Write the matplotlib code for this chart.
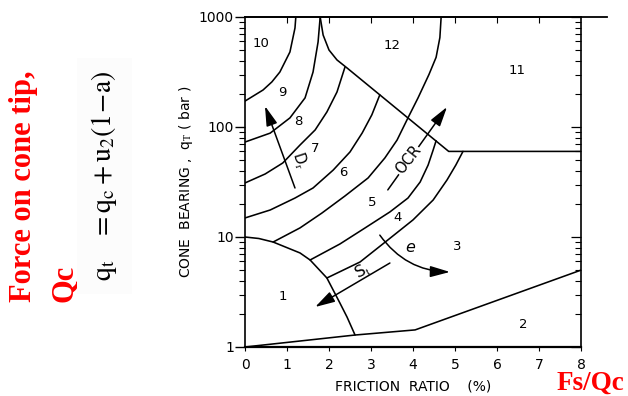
import matplotlib
matplotlib.use('Agg')
import matplotlib.pyplot as plt
from matplotlib.ticker import FixedLocator, NullFormatter
from matplotlib.patches import FancyArrowPatch

plt.rcParams['mathtext.fontset'] = 'stix'

# ---- data: friction ratio (%) vs cone bearing q_T (bar) ----
arc_10_9_x = [0, 0.43, 0.64, 0.83, 1.07, 1.19, 1.21]
arc_10_9_y = [172, 217, 257, 316, 481, 794, 1000]
arc_9_8_x = [0, 0.60, 1.07, 1.43, 1.62, 1.74, 1.79]
arc_9_8_y = [73, 88, 121, 184, 316, 593, 1000]
zone12_x = [1.79, 1.86, 2.0, 2.19, 2.43, 4.85, 8.0]
zone12_y = [1000, 686, 501, 407, 344, 60, 60]
arc_8_7_x = [0, 0.48, 0.90, 1.31, 1.67, 1.95, 2.19, 2.38]
arc_8_7_y = [31, 37.4, 47.1, 68.6, 94, 137, 208, 350]
arc_7_6_x = [0, 0.60, 1.19, 1.62, 2.10, 2.50, 2.79, 3.02, 3.21]
arc_7_6_y = [14.9, 17.6, 22.6, 27.9, 40.6, 59.3, 88.2, 129, 196]
arc_6_5_x = [0.67, 1.31, 1.83, 2.38, 2.93, 3.33, 3.62, 3.88, 4.12, 4.38, 4.55, 4.64, 4.67]
arc_6_5_y = [9.0, 12.1, 16.5, 23.6, 34.4, 52.3, 76, 121, 184, 300, 430, 650, 1000]
arc_5_4_x = [1.55, 2.26, 2.86, 3.45, 3.88, 4.17, 4.36, 4.48, 4.55]
arc_5_4_y = [6.18, 8.64, 12.1, 16.9, 22.6, 31.6, 45.1, 61.8, 75]
arc_4_3_x = [1.95, 2.74, 3.40, 4.0, 4.48, 4.81, 5.02, 5.19]
arc_4_3_y = [4.24, 5.93, 9.39, 14.3, 21.7, 33.0, 45.1, 60]
zone1_x = [0, 0.33, 0.67, 1.31, 1.55, 1.95, 2.26, 2.43, 2.62]
zone1_y = [10, 9.69, 9.0, 7.16, 6.18, 4.24, 2.51, 1.87, 1.285]
zone2_x = [0, 2.62, 4.05, 8.0]
zone2_y = [1.0, 1.285, 1.43, 5.0]

zone_names = ['1', '2', '3', '4', '5', '6', '7', '8', '9', '10', '11', '12']
zone_lx = [0.90, 6.62, 5.05, 3.64, 3.02, 2.33, 1.67, 1.26, 0.88, 0.38, 6.48, 3.5]
zone_ly = [2.85, 1.585, 8.28, 14.9, 20.8, 38.2, 64.4, 113, 204, 580, 323, 556]

# trend arrows (start, end) and their labels
dr_arrow = [(1.19, 27.9), (0.476, 155)]
dr_label = (1.30, 50)
ocr_arrow = [(3.40, 26.8), (4.81, 152)]
ocr_label = (3.88, 50)
e_arrow = [(3.21, 10.4), (4.88, 4.81)]
e_label = (3.93, 8.1)
st_arrow = [(3.45, 5.80), (1.67, 2.31)]
st_label = (2.79, 4.9)

x_ticks = [0, 1, 2, 3, 4, 5, 6, 7, 8]
y_ticks = [1, 10, 100, 1000]
y_ticklabels = ['1', '10', '100', '1000']

fig = plt.figure(figsize=(6.28, 3.96), dpi=100)
ax = fig.add_axes([245/628, 1-347/396, 336/628, 330/396])
ax.set_xlim(0, 8)
ax.set_yscale('log')
ax.set_ylim(1, 1000)

lw = 1.15
for xs, ys in [(arc_10_9_x, arc_10_9_y), (arc_9_8_x, arc_9_8_y), (zone12_x, zone12_y),
               (arc_8_7_x, arc_8_7_y), (arc_7_6_x, arc_7_6_y), (arc_6_5_x, arc_6_5_y),
               (arc_5_4_x, arc_5_4_y), (arc_4_3_x, arc_4_3_y), (zone1_x, zone1_y),
               (zone2_x, zone2_y)]:
    ax.plot(xs, ys, color='black', lw=lw, solid_joinstyle='round', solid_capstyle='round')

for name, lx, ly in zip(zone_names, zone_lx, zone_ly):
    ax.text(lx, ly, name, ha='center', va='center', fontsize=9.5)

head = '-|>,head_length=0.6,head_width=0.17'
def arrow(p, conn='arc3,rad=0'):
    a = FancyArrowPatch(p[0], p[1], arrowstyle=head, mutation_scale=20,
                        connectionstyle=conn, color='black', lw=1.1, shrinkA=0, shrinkB=0)
    ax.add_patch(a)

arrow(dr_arrow)
arrow(ocr_arrow)
arrow(e_arrow, 'arc3,rad=0.25')
arrow(st_arrow)

ax.text(*dr_label, r'D$_\mathrm{r}$', rotation=-72, ha='center', va='center', fontsize=10.5)
ax.text(*ocr_label, 'OCR', rotation=52, ha='center', va='center', fontsize=10.5,
        bbox=dict(facecolor='white', edgecolor='none', pad=0.5))
ax.text(*e_label, 'e', ha='center', va='center', fontsize=11.5, fontstyle='italic')
ax.text(*st_label, r'S$_\mathrm{t}$', rotation=28, ha='center', va='center', fontsize=11.5)

# axes styling
for s in ax.spines.values():
    s.set_linewidth(1.2)
ax.spines['bottom'].set_linewidth(1.6)
ax.plot([0, 1.077], [1, 1], transform=ax.transAxes, color='black', lw=1.3, clip_on=False)

ax.xaxis.set_major_locator(FixedLocator(x_ticks))
ax.set_xticklabels([str(t) for t in x_ticks])
ax.tick_params(axis='x', direction='out', length=3, width=0.8, pad=5, labelsize=10)
ax.yaxis.set_major_locator(FixedLocator(y_ticks))
ax.set_yticklabels(y_ticklabels)
ax.yaxis.set_minor_locator(FixedLocator([m * d for d in (1, 10, 100) for m in range(2, 10)]))
ax.yaxis.set_minor_formatter(NullFormatter())
ax.tick_params(axis='y', which='major', direction='out', length=7, width=1.0, pad=1, labelsize=10)
ax.tick_params(axis='y', which='minor', direction='out', length=4, width=0.8)

top = ax.secondary_xaxis('top')
top.xaxis.set_major_locator(FixedLocator(x_ticks[1:-1]))
top.tick_params(direction='in', length=4, width=0.8, labeltop=False)
top.spines['top'].set_visible(False)

right = ax.secondary_yaxis('right')
right.yaxis.set_major_locator(FixedLocator(y_ticks))
right.yaxis.set_minor_locator(FixedLocator([m * d for d in (1, 10, 100) for m in range(2, 10)]))
right.yaxis.set_minor_formatter(NullFormatter())
right.tick_params(which='major', direction='in', length=7, width=0.9, labelright=False)
right.tick_params(which='minor', direction='in', length=4, width=0.8)
right.spines['right'].set_visible(False)

ax.set_xlabel('FRICTION  RATIO    (%)', fontsize=10, labelpad=5)
ax.set_ylabel(r'CONE  BEARING ,  q$_\mathrm{T}$ ( bar )', fontsize=10)
ax.yaxis.set_label_coords(-0.15, 0.5)

# red annotation texts
red_font = ['Liberation Serif', 'DejaVu Serif']
fig.text(624/628, 6/396, 'Fs/Qc', color='red', fontsize=19.5, fontweight='bold',
         family=red_font, ha='right', va='baseline')
fig.text(23.5/628, 1-302/396, 'Force on cone tip,', color='red', fontsize=22, fontweight='bold',
         family=red_font, rotation=90, ha='center', va='bottom')
fig.text(64/628, 1-302/396, 'Qc', color='red', fontsize=22, fontweight='bold',
         family=red_font, rotation=90, ha='center', va='bottom')
fig.text(104/628, 1-176/396, r'$\mathrm{q_t\quad = q_c + u_2(1\!-\!a)}$', fontsize=20,
         rotation=90, ha='center', va='center',
         bbox=dict(facecolor='#fcfcfc', edgecolor='none', boxstyle='square,pad=0.45'))

fig.savefig('out.png', dpi=100)
